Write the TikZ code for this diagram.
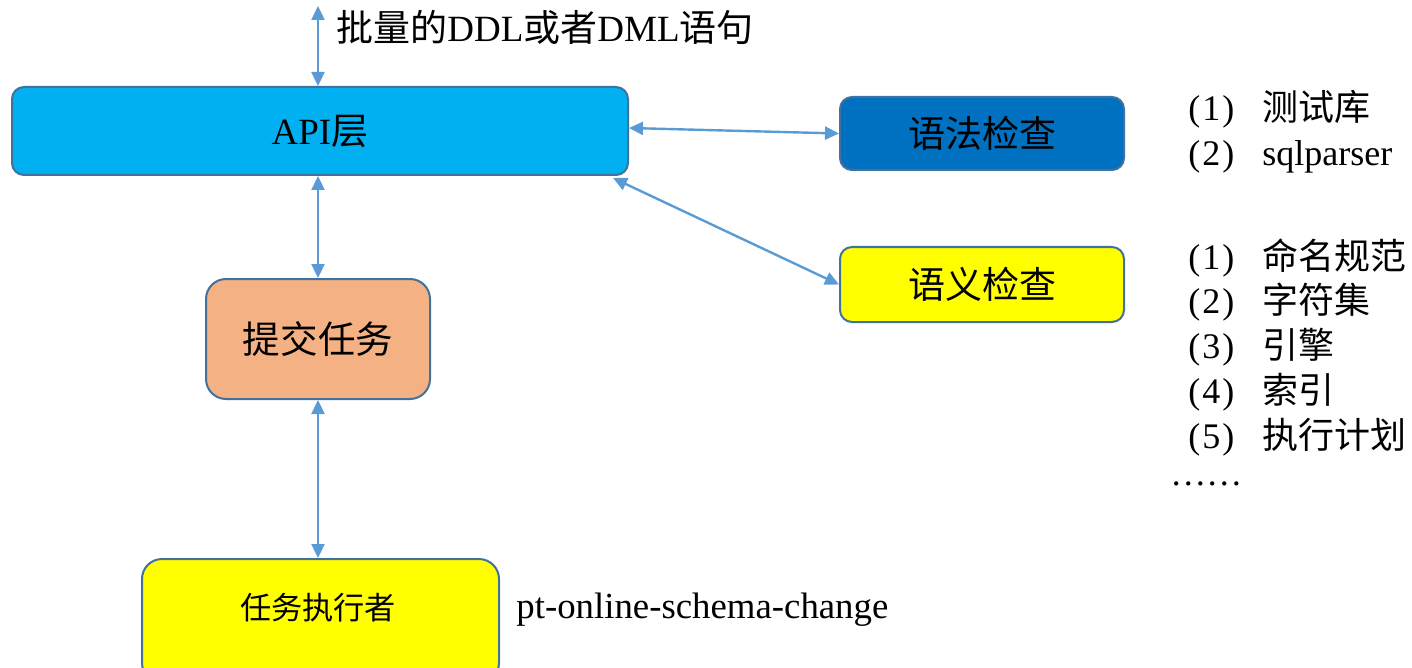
\documentclass[tikz,border=0pt]{standalone}
\usepackage{fontspec}
\setmainfont{Liberation Serif}
\newfontfamily\cjk{Noto Sans CJK SC}
\usetikzlibrary{arrows.meta,calc}
\definecolor{apiblue}{HTML}{00B0F0}
\definecolor{synblue}{HTML}{0070C0}
\definecolor{edgeblue}{HTML}{41719C}
\definecolor{arrowblue}{HTML}{5B9BD5}
\definecolor{peach}{HTML}{F4B183}
\definecolor{yel}{HTML}{FFFF00}
\newcommand{\listnum}[1]{\makebox[37pt][l]{(\kern1pt#1\kern1pt)}}
\newcommand{\listentry}[2]{\listnum{#1}{\cjk #2}}
\tikzset{
  box/.style={draw=edgeblue, line width=1pt, rounded corners=6pt, inner sep=0pt},
  conn/.style={draw=arrowblue, line width=1.2pt, {Triangle[length=7pt,width=6.5pt]}-{Triangle[length=7pt,width=6.5pt]}},
  txt/.style={inner sep=0pt, font=\fontsize{18pt}{21pt}\selectfont},
  listtxt/.style={txt, anchor=west, text height=13pt, text depth=3pt},
}
\begin{document}
\begin{tikzpicture}[x=0.5pt,y=-0.5pt]
\useasboundingbox (0,0) rectangle (1412,668);
% boxes
\node[box, fill=apiblue, minimum width=308pt, minimum height=44pt, font=\fontsize{18.5pt}{21pt}\selectfont] (api) at (320,131) {API{\cjk 层}};
\node[box, fill=synblue, minimum width=142pt, minimum height=36.5pt, font=\fontsize{18.5pt}{21pt}\selectfont\cjk] (syn) at (982,133.5) {语法检查};
\node[box, fill=yel, minimum width=142pt, minimum height=37.5pt, font=\fontsize{18.5pt}{21pt}\selectfont\cjk] (sem) at (982,284.5) {语义检查};
\node[box, rounded corners=10pt, fill=peach, minimum width=112pt, minimum height=60pt, font=\fontsize{18.8pt}{21pt}\selectfont\cjk] (sub) at (318,339) {提交任务};
\node[box, rounded corners=10pt, fill=yel, minimum width=178.5pt, minimum height=62pt] (exec) at (320.5,621) {};
\node[txt, font=\fontsize{15.6pt}{18pt}\selectfont\cjk] (exectxt) at (318,608) {任务执行者};
% connectors
\coordinate (top) at (318,6);
\draw[conn] (top) -- (top |- api.north);
\draw[conn] (sub.north |- api.south) -- (sub.north);
\draw[conn] (sub.south) -- (sub.south |- exec.north);
\draw[conn] ($(api.east)+(0,1.5pt)$) -- (syn.west);
\draw[conn] ($(api.south east)+(-8pt,-1pt)$) -- (sem.west);
% texts
\node[txt, anchor=west, font=\fontsize{18.5pt}{21pt}\selectfont] (title) at (336,27) {{\cjk 批量的}DDL{\cjk 或者}DML{\cjk 语句}};
\node[listtxt] (l1) at (1188,111) {\listentry{1}{测试库}};
\node[listtxt] (l2) at (1188,156) {\listnum{2}sqlparser};
\node[listtxt] (m1) at (1188,260) {\listentry{1}{命名规范}};
\node[listtxt] (m2) at (1188,303) {\listentry{2}{字符集}};
\node[listtxt] (m3) at (1188,348) {\listentry{3}{引擎}};
\node[listtxt] (m4) at (1188,393) {\listentry{4}{索引}};
\node[listtxt] (m5) at (1188,438) {\listentry{5}{执行计划}};
\node[listtxt] (m6) at (1170,475) {……};
\node[txt, anchor=west, font=\fontsize{18.4pt}{21pt}\selectfont] (pt) at (516,610) {pt-online-schema-change};
\end{tikzpicture}
\end{document}
